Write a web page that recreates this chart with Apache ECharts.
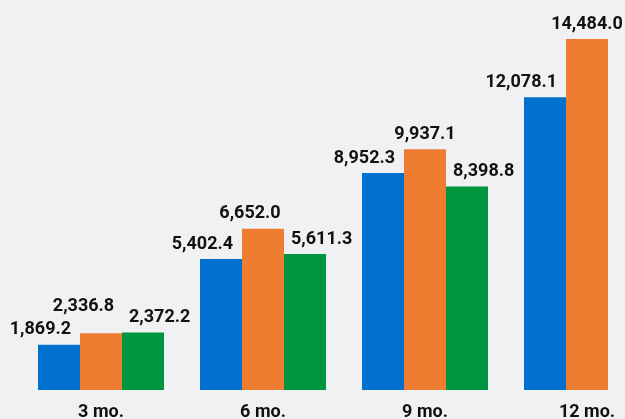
<!DOCTYPE html>
<html><head><meta charset="utf-8">
<script src="https://cdn.jsdelivr.net/npm/echarts@6/dist/echarts.min.js"></script>
<style>html,body{margin:0;padding:0;background:#f0f1f3;}#c{width:625px;height:419px;}</style>
</head><body><div id="c"></div>
<script>
var categories = ['3 mo.', '6 mo.', '9 mo.', '12 mo.'];
var seriesA = [1869.2, 5402.4, 8952.3, 12078.1];
var seriesB = [2336.8, 6652.0, 9937.1, 14484.0];
var seriesC = [2372.2, 5611.3, 8398.8, null];

var FONT = 'Roboto, sans-serif';
function fmt(v){ return v.toLocaleString('en-US',{minimumFractionDigits:1,maximumFractionDigits:1}); }
// per-item label offsets (styling only)
var labelShiftB = {0:[-17.5,-12], 1:[-13,0]};
function mk(data, color, align, offX, shifts){
  shifts = shifts || {};
  var items = data.map(function(v, i){
    var o = {value: v};
    if (shifts[i]) o.label = {offset: shifts[i]};
    return o;
  });
  return {
    type:'bar', data:items, barWidth:42, barGap:'0%',
    itemStyle:{color:color},
    label:{show:true, position:'top', distance:6, align:align, offset:[offX,0],
      fontFamily:FONT, fontWeight:'bold', fontSize:18, color:'#111',
      formatter:function(p){ return p.value==null?'':fmt(p.value); }}
  };
}
var chart = echarts.init(document.getElementById('c'), null, {renderer:'canvas'});
chart.setOption({
  backgroundColor:'#f0f1f3',
  animation:false,
  grid:{left:20, top:26.5, bottom:29, width:648, outerBoundsMode:'none', containLabel:false},
  xAxis:{type:'category', data:categories, axisLine:{show:false}, axisTick:{show:false},
    axisLabel:{margin:13, fontFamily:FONT, fontWeight:'bold', fontSize:18, color:'#111'}},
  yAxis:{type:'value', min:0, max:15000, show:false, splitLine:{show:false}},
  series:[
    mk(seriesA,'#0070cf','right',12),
    mk(seriesB,'#ee7d31','center',0,labelShiftB),
    mk(seriesC,'#00953f','left',-14)
  ]
});
</script></body></html>
